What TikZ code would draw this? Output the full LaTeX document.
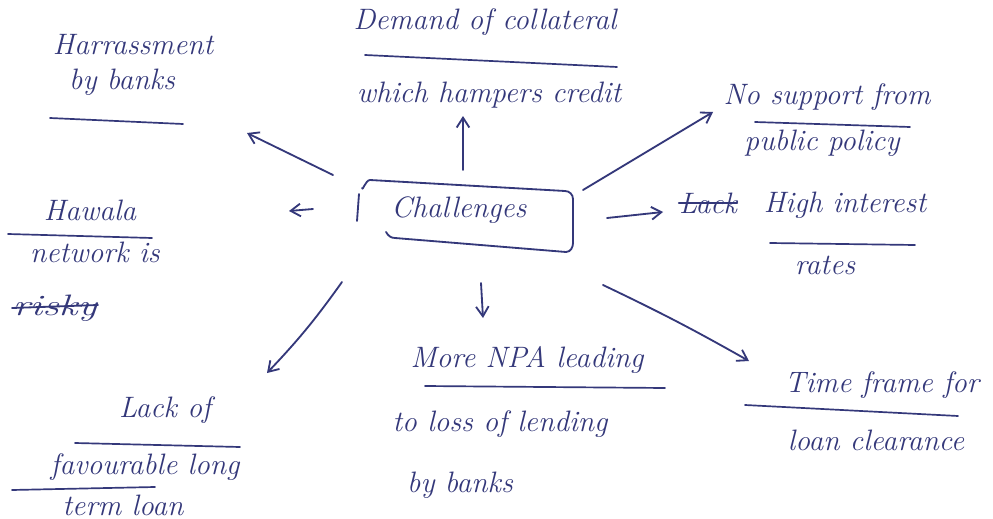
\documentclass[tikz,border=0pt]{standalone}
\usetikzlibrary{arrows.meta}
\definecolor{ink}{RGB}{52,56,122}
\begin{document}
\begin{tikzpicture}[x=0.025cm,y=-0.025cm,
  ink/.style={draw=ink,line width=1.3pt,line cap=round,line join=round},
  arr/.style={ink,-{Straight Barb[length=7pt,width=9pt,line width=1.3pt]}},
  hand/.style={text=ink,inner sep=0pt,font=\fontsize{21}{25}\selectfont\itshape},
  ul/.style={ink,line width=1.2pt}]
\useasboundingbox (0,0) rectangle (993,519);
\fill[white] (0,0) rectangle (993,519);

% central node
\node[hand] (ch) at (459,210) {Challenges};
\draw[ink] (362,188) to[out=-90,in=180] (370,180) -- (565,191)
  to[out=0,in=90] (573,199) -- (573,243) to[out=-90,in=0] (566,252)
  -- (395,238) to[out=180,in=-60] (386,232);
\draw[ink] (359,194) -- (357,221);

% branches
\node[hand] (har1) at (133,45) {Harrassment};
\node[hand] (har2) at (122,82) {by banks};
\draw[ul] (50,118) -- (183,124);

\node[hand] (dem1) at (485,22) {Demand of collateral};
\draw[ul] (365,55) -- (617,67);
\node[hand] (dem2) at (489,95) {which hampers credit};

\node[hand] (nos1) at (827,97) {No support from};
\draw[ul] (755,122) -- (910,127);
\node[hand] (nos2) at (822,143) {public policy};

\node[hand] (lk) at (708,203) {Lack};
\draw[ink] (lk.west) -- (lk.east);
\node[hand] (hir1) at (845,205) {High interest};
\draw[ul] (770,243) -- (915,245);
\node[hand] (hir2) at (825,265) {rates};

\node[hand] (haw1) at (90,210) {Hawala};
\draw[ul] (8,234) -- (152,238);
\node[hand] (haw2) at (95,252) {network is};
\node[hand,xscale=1.4] (haw3) at (55,308) {risky};
\draw[ink] (12,308) -- (98,305);

\node[hand] (lac1) at (165,410) {Lack of};
\draw[ul] (75,443) -- (240,447);
\node[hand] (lac2) at (145,467) {favourable long};
\draw[ul] (12,490) -- (155,487);
\node[hand] (lac3) at (123,505) {term loan};

\node[hand] (npa1) at (527,360) {More NPA leading};
\draw[ul] (425,386) -- (665,388);
\node[hand] (npa2) at (500,424) {to loss of lending};
\node[hand] (npa3) at (460,485) {by banks};

\node[hand] (tim1) at (882,385) {Time frame for};
\draw[ul] (745,405) -- (958,416);
\node[hand] (tim2) at (876,440) {loan clearance};

% connector end points
\coordinate (aT0) at (463,170); \coordinate (aT1) at (463,116);
\coordinate (aTL0) at (333,175); \coordinate (aTL1) at (247,133);
\coordinate (aTR0) at (583,190); \coordinate (aTR1) at (713,112);
\coordinate (aL0) at (313,209); \coordinate (aL1) at (289,211);
\coordinate (aR0) at (607,218); \coordinate (aR1) at (663,212);
\coordinate (aB0) at (481,283); \coordinate (aB1) at (483,318);
\coordinate (aBL0) at (342,282); \coordinate (aBL1) at (267,373);
\coordinate (aBR0) at (603,285); \coordinate (aBR1) at (749,361);

\draw[arr] (aT0) -- (aT1);
\draw[arr] (aTL0) -- (aTL1);
\draw[arr] (aTR0) -- (aTR1);
\draw[arr] (aL0) -- (aL1);
\draw[arr] (aR0) -- (aR1);
\draw[arr] (aB0) -- (aB1);
\draw[arr] (aBL0) to[bend left=4] (aBL1);
\draw[arr] (aBR0) to[bend left=2] (aBR1);
\end{tikzpicture}
\end{document}
